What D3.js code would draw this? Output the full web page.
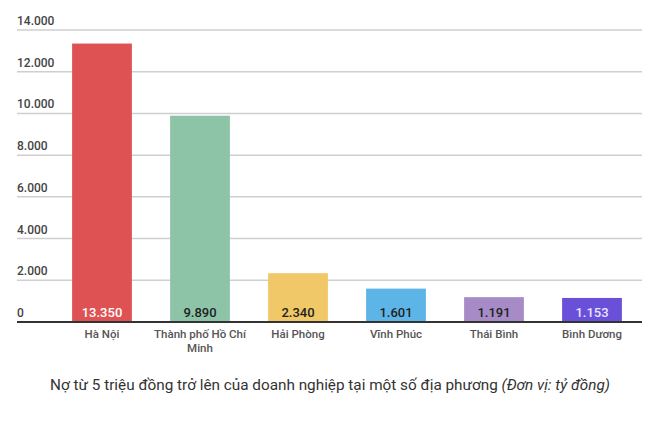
<!DOCTYPE html>
<html>
<head>
<meta charset="utf-8">
<script src="https://cdn.jsdelivr.net/npm/d3@7"></script>
<style>
  body { margin: 0; background: #fff; }
  text { font-family: Roboto, 'Noto Sans', sans-serif; }
</style>
</head>
<body>
<svg id="chart" width="660" height="421"></svg>
<script>
const provinces = ['Hà Nội', 'Thành phố Hồ Chí Minh', 'Hải Phòng', 'Vĩnh Phúc', 'Thái Bình', 'Bình Dương']
const debts = [13350, 9890, 2340, 1601, 1191, 1153]
const barColors = ['#de5254', '#8dc4a8', '#f0c867', '#5db5e7', '#a78bc6', '#6a50d9']
const labelColors = ['#ffffff', '#222222', '#222222', '#222222', '#222222', '#e8e4ff']
const yTicks = [0, 2000, 4000, 6000, 8000, 10000, 12000, 14000]
const caption = 'Nợ từ 5 triệu đồng trở lên của doanh nghiệp tại một số địa phương '
const captionUnit = '(Đơn vị: tỷ đồng)'

const fmt = d3.formatLocale({ decimal: ',', thousands: '.', grouping: [3], currency: ['', ''] }).format(',')

const svg = d3.select('#chart')
const left = 17
const right = 642

const x = d3.scaleBand().domain(provinces).range([53, 641]).paddingInner(0.39).paddingOuter(0.195)
const y = d3.scaleLinear().domain([0, 14000]).range([322, 30])

// gridlines + labels sitting above them
const grid = svg.append('g').attr('class', 'grid')
grid
  .selectAll('line')
  .data(yTicks.filter((d) => d > 0))
  .join('line')
  .attr('x1', left)
  .attr('x2', right)
  .attr('y1', (d) => y(d))
  .attr('y2', (d) => y(d))
  .attr('stroke', '#cfcfcf')
  .attr('stroke-width', 1.5)

grid
  .selectAll('text')
  .data(yTicks)
  .join('text')
  .attr('x', left)
  .attr('y', (d) => y(d) - 5)
  .attr('font-size', 12)
  .attr('font-weight', 500)
  .attr('fill', '#444')
  .text((d) => fmt(d))

const data = provinces.map((p, i) => ({ name: p, value: debts[i], color: barColors[i], label: labelColors[i] }))

const bars = svg.append('g').attr('class', 'bars')
bars
  .selectAll('rect')
  .data(data)
  .join('rect')
  .attr('x', (d) => x(d.name))
  .attr('y', (d) => y(d.value))
  .attr('width', x.bandwidth())
  .attr('height', (d) => y(0) - y(d.value))
  .attr('fill', (d) => d.color)

bars
  .selectAll('text')
  .data(data)
  .join('text')
  .attr('x', (d) => x(d.name) + x.bandwidth() / 2)
  .attr('y', y(0) - 5)
  .attr('text-anchor', 'middle')
  .attr('font-size', 13)
  .attr('font-weight', 500)
  .attr('fill', (d) => d.label)
  .text((d) => fmt(d.value))

// baseline
svg
  .append('line')
  .attr('x1', left)
  .attr('x2', right)
  .attr('y1', y(0))
  .attr('y2', y(0))
  .attr('stroke', '#333')
  .attr('stroke-width', 2)

// category labels, wrapped
const cats = svg.append('g').attr('class', 'cats')
cats
  .selectAll('text')
  .data(provinces)
  .join('text')
  .attr('x', (d) => x(d) + x.bandwidth() / 2)
  .attr('y', 338)
  .attr('text-anchor', 'middle')
  .attr('font-size', 11.5)
  .attr('font-weight', 500)
  .attr('fill', '#555')
  .each(function (d) {
    wrap(d3.select(this), d, x.step() - 2)
  })

function wrap(textSel, str, width) {
  const words = str.split(/\s+/)
  const cx = textSel.attr('x')
  let line = []
  let tspan = textSel.append('tspan').attr('x', cx).attr('dy', 0)
  words.forEach(function (w) {
    line.push(w)
    tspan.text(line.join(' '))
    if (tspan.node().getComputedTextLength() > width && line.length > 1) {
      line.pop()
      tspan.text(line.join(' '))
      line = [w]
      tspan = textSel.append('tspan').attr('x', cx).attr('dy', 14).text(w)
    }
  })
}

// caption
const cap = svg
  .append('text')
  .attr('x', 330)
  .attr('y', 390)
  .attr('text-anchor', 'middle')
  .attr('font-size', 15.3)
  .attr('fill', '#333')
cap.append('tspan').text(caption)
cap.append('tspan').attr('font-style', 'italic').text(captionUnit)
</script>
</body>
</html>
